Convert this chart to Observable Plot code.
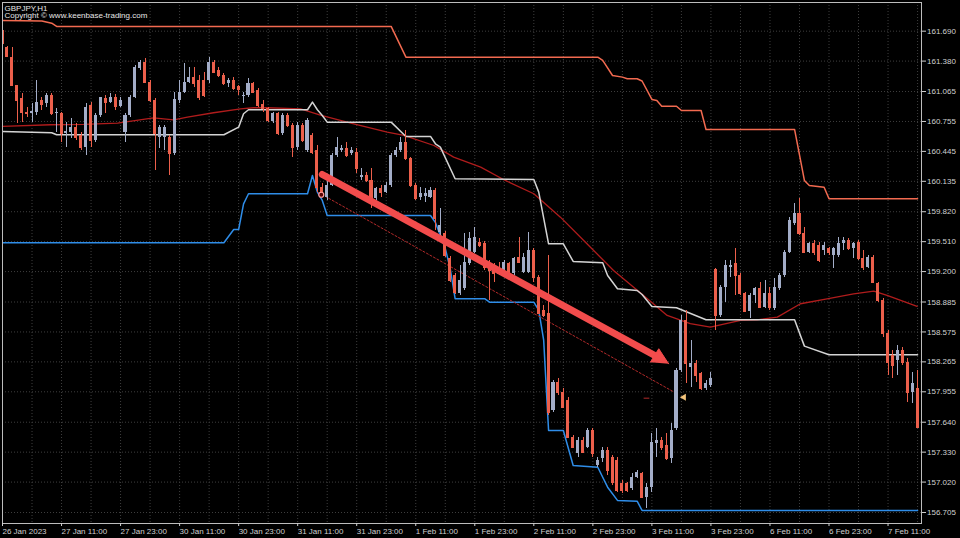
<!DOCTYPE html>
<html><head><meta charset="utf-8">
<script src="https://cdn.jsdelivr.net/npm/d3@7"></script>
<script src="https://cdn.jsdelivr.net/npm/@observablehq/plot@0.6"></script>
<style>
html,body{margin:0;padding:0;background:#000;}
#chart{width:960px;height:538px;overflow:hidden;}
</style></head><body><div id="chart"></div>
<script>
// ---- data ----
const xLabels = ["26 Jan 2023","27 Jan 11:00","27 Jan 23:00","30 Jan 11:00","30 Jan 23:00","31 Jan 11:00","31 Jan 23:00","1 Feb 11:00","1 Feb 23:00","2 Feb 11:00","2 Feb 23:00","3 Feb 11:00","3 Feb 23:00","6 Feb 11:00","6 Feb 23:00","7 Feb 11:00"];
const yTicks = [161.690,161.380,161.065,160.755,160.445,160.135,159.820,159.510,159.200,158.885,158.575,158.265,157.955,157.640,157.330,157.020,156.705];

const candleOpen = [161.697,161.521,161.418,161.128,160.993,160.848,160.838,160.848,160.972,160.941,161.024,160.838,160.838,160.631,160.641,160.693,160.610,160.486,160.920,160.558,160.817,160.993,160.951,161.003,160.910,160.641,160.817,161.003,161.304,161.366,161.159,160.972,160.589,160.589,160.589,160.423,160.972,161.055,161.159,161.210,161.180,161.180,161.180,161.366,161.283,161.231,161.148,161.180,161.117,161.014,161.024,161.148,161.076,160.931,160.889,160.755,160.838,160.631,160.817,160.713,160.486,160.713,160.454,160.610,160.454,160.071,159.968,160.092,160.403,160.454,160.475,160.423,160.434,160.175,160.195,160.144,159.957,160.061,160.019,160.092,160.403,160.454,160.537,160.372,160.092,159.968,159.978,159.968,160.040,159.605,159.595,159.336,159.160,158.973,159.025,159.284,159.398,159.502,159.491,159.263,159.243,159.243,159.212,159.284,159.181,159.346,159.191,159.191,159.419,159.139,158.797,158.766,157.762,158.052,157.948,157.865,157.482,157.316,157.451,157.378,157.555,157.192,157.264,157.347,157.275,157.244,157.006,157.006,156.954,157.068,157.109,156.861,156.964,157.420,157.451,157.399,157.264,157.576,158.176,158.694,158.207,158.248,158.145,157.990,158.020,159.222,158.746,159.035,159.243,159.284,159.160,158.973,158.787,158.953,159.025,158.828,158.973,158.818,159.025,159.160,159.398,159.698,159.802,159.595,159.398,159.491,159.470,159.419,159.440,159.367,159.367,159.491,159.522,159.440,159.502,159.336,159.243,159.346,159.077,158.901,158.559,158.331,158.279,158.383,158.259,157.948,157.990];
const candleHigh = [161.729,161.532,161.521,161.128,161.045,160.900,160.941,161.180,161.003,161.045,161.045,160.889,160.848,160.744,160.786,160.734,160.641,160.941,160.951,160.838,161.003,161.024,161.045,161.034,161.003,160.838,161.024,161.335,161.387,161.407,161.180,160.993,160.713,160.713,160.610,161.055,161.180,161.356,161.314,161.314,161.231,161.262,161.418,161.387,161.314,161.252,161.200,161.210,161.128,161.055,161.200,161.159,161.097,160.972,160.900,160.848,160.848,160.838,160.838,160.734,160.744,160.734,160.786,160.631,160.506,160.113,160.144,160.423,160.589,160.506,160.537,160.486,160.475,160.268,160.227,160.268,160.071,160.092,160.123,160.423,160.486,160.589,160.662,160.382,160.113,160.071,160.061,160.071,160.061,159.854,159.616,159.357,159.181,159.263,159.595,159.605,159.657,159.543,159.512,159.315,159.284,159.294,159.315,159.294,159.346,159.553,159.388,159.605,159.440,159.160,158.849,159.367,158.072,158.093,157.990,157.896,157.503,157.482,157.482,157.576,157.576,157.275,157.378,157.378,157.296,157.275,157.037,157.016,157.109,157.140,157.120,157.006,157.524,157.576,157.482,157.524,157.627,158.197,158.746,158.797,158.487,158.279,158.155,158.072,158.155,159.232,159.056,159.315,159.315,159.440,159.181,158.984,158.973,159.035,159.087,159.108,159.035,159.129,159.181,159.419,159.760,159.906,159.957,159.657,159.502,159.522,159.502,159.502,159.450,159.450,159.553,159.553,159.543,159.502,159.522,159.419,159.367,159.367,159.087,158.921,158.590,158.383,158.435,158.414,158.300,158.155,158.176];
const candleLow = [161.542,161.418,161.128,160.734,160.744,160.796,160.744,160.817,160.869,160.900,160.817,160.641,160.537,160.486,160.579,160.558,160.454,160.403,160.486,160.537,160.796,160.838,160.941,160.869,160.900,160.537,160.796,160.993,161.283,161.148,160.951,160.247,160.475,160.454,160.195,160.403,160.941,161.045,161.148,161.107,160.972,161.003,161.148,161.252,161.210,161.128,161.107,161.076,161.024,160.941,161.003,161.045,160.900,160.848,160.744,160.734,160.610,160.610,160.693,160.382,160.454,160.537,160.434,160.413,160.019,159.968,159.937,160.082,160.382,160.434,160.382,160.403,160.216,160.144,160.123,159.854,159.937,159.968,160.009,160.071,160.382,160.434,160.351,160.071,159.937,159.937,159.916,159.957,159.626,159.553,159.346,159.087,158.963,158.953,159.004,159.263,159.388,159.450,159.212,158.901,159.087,159.160,159.191,159.160,159.160,159.284,159.181,159.181,159.087,158.766,158.725,157.710,157.741,157.917,157.782,157.472,157.368,157.275,157.316,157.368,157.275,157.171,157.223,157.088,156.985,156.912,156.902,156.912,156.933,157.057,156.850,156.747,156.912,157.275,157.347,157.244,157.213,157.555,158.155,158.041,158.000,158.052,157.969,157.969,158.000,158.590,158.725,158.880,159.139,158.953,158.953,158.777,158.715,158.870,158.818,158.818,158.797,158.797,159.004,159.139,159.388,159.678,159.574,159.388,159.388,159.367,159.294,159.367,159.367,159.232,159.346,159.419,159.419,159.336,159.315,159.212,159.232,159.077,158.880,158.518,158.124,158.093,158.124,158.228,157.844,157.834,157.586];
const candleClose = [161.563,161.428,161.128,160.972,160.848,160.838,160.858,160.951,160.931,161.024,160.838,160.848,160.631,160.651,160.693,160.589,160.486,160.900,160.558,160.817,161.003,160.951,161.003,160.910,160.972,160.817,161.003,161.314,161.366,161.159,160.972,160.631,160.693,160.693,160.423,160.983,161.055,161.159,161.210,161.148,161.003,161.024,161.366,161.262,161.231,161.148,161.180,161.097,161.086,161.024,161.148,161.055,160.920,160.889,160.765,160.838,160.631,160.817,160.713,160.486,160.713,160.558,160.765,160.434,160.071,160.009,160.092,160.403,160.486,160.475,160.403,160.454,160.268,160.195,160.144,159.957,160.061,160.019,160.092,160.403,160.454,160.537,160.372,160.092,159.957,160.009,160.009,160.040,159.750,159.678,159.367,159.108,158.984,159.108,159.294,159.543,159.553,159.470,159.243,159.212,159.181,159.181,159.294,159.181,159.336,159.294,159.346,159.419,159.139,158.766,158.746,157.741,158.052,157.948,157.793,157.482,157.378,157.451,157.327,157.555,157.316,157.244,157.347,157.140,157.016,156.933,156.933,156.933,157.068,157.120,156.861,156.964,157.430,157.451,157.378,157.264,157.555,158.176,158.694,158.248,158.248,158.124,157.990,158.041,158.093,158.746,159.035,159.263,159.263,159.160,158.973,158.787,158.953,159.025,158.828,158.973,158.828,159.035,159.160,159.398,159.729,159.802,159.595,159.398,159.491,159.398,159.315,159.470,159.398,159.440,159.491,159.522,159.440,159.491,159.336,159.243,159.346,159.087,158.901,158.559,158.259,158.228,158.383,158.259,157.948,158.041,157.586];

// indicator lines: [bar index, price]
const upperBand = [[0,161.801],[8,161.796],[10,161.773],[11,161.739],[79,161.739],[82,161.421],[121,161.421],[122,161.387],[124,161.231],[126,161.214],[127,161.197],[129,161.197],[130,161.174],[132,160.983],[133,160.972],[134,160.913],[137,160.913],[138,160.869],[142,160.869],[143,160.672],[161,160.672],[163,160.144],[164,160.092],[167,160.074],[168,159.954],[186,159.954]];
const lowerBand = [[0,159.499],[45,159.499],[47,159.636],[48,159.636],[49,159.902],[50,160.006],[62,160.006],[63,160.195],[64,160.023],[65,159.937],[66,159.781],[87,159.781],[88,159.709],[89,159.574],[90,159.440],[91,159.232],[92,158.919],[98,158.919],[99,158.883],[108,158.883],[109,158.800],[110,158.490],[111,157.555],[114,157.555],[116,157.192],[121,157.174],[123,156.967],[125,156.830],[129,156.822],[130,156.726],[186,156.726]];
const midLine = [[0,160.651],[10,160.638],[11,160.617],[45,160.617],[48,160.696],[49,160.835],[50,160.876],[62,160.876],[63,160.955],[64,160.876],[65,160.817],[66,160.748],[79,160.748],[82,160.600],[87,160.600],[88,160.524],[89,160.489],[92,160.161],[108,160.154],[109,160.023],[111,159.488],[114,159.488],[116,159.305],[122,159.291],[123,159.160],[125,159.022],[129,159.004],[130,158.963],[132,158.839],[137,158.825],[143,158.701],[161,158.701],[163,158.428],[168,158.338],[186,158.338]];
const movingAvg = [[0,160.703],[9.8,160.721],[16.5,160.724],[23.4,160.737],[30.7,160.793],[34.8,160.772],[37.6,160.799],[42.9,160.845],[48.4,160.886],[51,160.897],[53.9,160.897],[60.6,160.886],[64.6,160.820],[71.4,160.731],[78.2,160.644],[81.6,160.610],[87.7,160.506],[91.7,160.385],[97.2,160.282],[102.2,160.144],[108,160.006],[113.4,159.764],[118.8,159.488],[124.2,159.212],[129.7,158.979],[135.1,158.746],[139.8,158.660],[143.9,158.624],[150,158.694],[153.4,158.701],[157.5,158.728],[162.2,158.867],[167.6,158.918],[173,158.970],[177.1,158.997],[179.8,158.953],[185.9,158.839]];

// annotations: [bar index, price]
const arrowShaft = [[65.0,160.206],[132.6,158.331]];
const arrowHead = [[131.7,158.262],[133.4,158.401],[135.4,158.245]];
const dashedTrend = [[64.2,160.019],[137.0,157.938]];
const startMarker = [[64.8,159.996]];
const endMarker = [[138.5,157.899]];
const smallDash = [[130.4,157.889],[131.4,157.889]];

// ---- build ----
const BULL = "#a3adc8", BEAR = "#ec5f4b";
const candles = candleOpen.map((o, i) => ({i, o, h: candleHigh[i], l: candleLow[i], c: candleClose[i]}));
const col = d => d.c >= d.o ? BULL : BEAR;
const pts = a => a.map(([i, p]) => ({i, p}));

const chart = Plot.plot({
  width: 960, height: 538,
  marginLeft: 2, marginRight: 39, marginTop: 2, marginBottom: 15,
  style: {background: "#000", color: "#cfcfcf", fontFamily: "Liberation Sans, Arial, sans-serif", fontSize: "8px"},
  x: {domain: [0, 186.8], label: null},
  y: {domain: [156.591, 161.987], label: null},
  marks: [
    Plot.gridY(yTicks, {stroke: "#3e3e3e", strokeOpacity: 1, strokeDasharray: "1,2"}),
    Plot.gridX(d3.range(6, 187, 6), {stroke: "#3e3e3e", strokeOpacity: 1, strokeDasharray: "1,2"}),
    Plot.line(pts(movingAvg), {x: "i", y: "p", stroke: "#b01c1c", strokeWidth: 1.3}),
    Plot.line(pts(upperBand), {x: "i", y: "p", stroke: "#f26a50", strokeWidth: 1.5, clip: true}),
    Plot.line(pts(lowerBand), {x: "i", y: "p", stroke: "#2f8de8", strokeWidth: 1.5, clip: true}),
    Plot.line(pts(midLine), {x: "i", y: "p", stroke: "#d4d4d4", strokeWidth: 1.5, clip: true}),
    Plot.line(pts(dashedTrend), {x: "i", y: "p", stroke: "#b32a2a", strokeWidth: 1, strokeDasharray: "2,2"}),
    Plot.ruleX(candles, {x: "i", y1: "l", y2: "h", stroke: col, strokeWidth: 1, clip: true, shapeRendering: "crispEdges"}),
    Plot.rect(candles, {x1: d => d.i - 0.31, x2: d => d.i + 0.31, y1: "o", y2: "c", fill: col, clip: true, shapeRendering: "crispEdges"}),
    Plot.ruleY(candles, {x1: d => d.i - 0.31, x2: d => d.i + 0.31, y: "c", stroke: col, strokeWidth: 1, clip: true, shapeRendering: "crispEdges"}),
    Plot.line(pts(smallDash), {x: "i", y: "p", stroke: "#b32a2a", strokeWidth: 1}),
    Plot.dot(pts(startMarker), {x: "i", y: "p", r: 2.5, stroke: "#ff9a9a", strokeWidth: 1.2, fill: "#5a0000"}),
    Plot.dot(pts(endMarker), {x: "i", y: "p", r: 2.6, symbol: "triangle", rotate: -90, fill: "#f3c47c", stroke: "none"}),
    Plot.line(pts(arrowShaft), {x: "i", y: "p", stroke: "#f24c4c", strokeWidth: 7, strokeLinecap: "round"}),
    Plot.line(pts(arrowHead), {x: "i", y: "p", fill: "#f24c4c", stroke: "#f24c4c", strokeWidth: 1}),
    Plot.frame({stroke: "#bdbdbd", strokeWidth: 1}),
    Plot.axisY(yTicks, {anchor: "right", tickFormat: d => d.toFixed(3), tickSize: 4, tickPadding: 1.5, color: "#d0d0d0", fontSize: 8, label: null}),
    Plot.axisX(d3.range(0, 181, 12), {anchor: "bottom", tickFormat: d => xLabels[d / 12], textAnchor: "start", tickSize: 3, tickPadding: 1.5, color: "#d0d0d0", fontSize: 8, label: null}),
    Plot.text(["GBPJPY,H1"], {frameAnchor: "top-left", dx: 2, dy: 8, lineAnchor: "bottom", textAnchor: "start", fill: "#e6e6e6", fontSize: 8}),
    Plot.text(["Copyright © www.keenbase-trading.com"], {frameAnchor: "top-left", dx: 2, dy: 15.3, lineAnchor: "bottom", textAnchor: "start", fill: "#e6e6e6", fontSize: 8})
  ]
});
document.getElementById("chart").appendChild(chart);
</script>
</body></html>
